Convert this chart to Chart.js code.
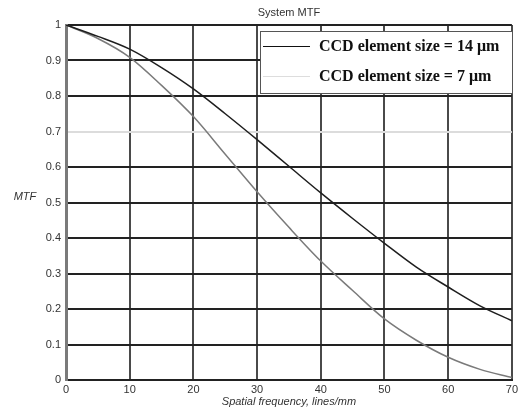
<!DOCTYPE html>
<html><head><meta charset="utf-8">
<script src="https://cdn.jsdelivr.net/npm/chart.js@4.4.1/dist/chart.umd.min.js"></script>
<style>html,body{margin:0;padding:0;background:#fff}#wrap{width:521px;height:408px}</style>
</head><body><div id="wrap"><canvas id="c" width="521" height="408"></canvas></div>
<script>
const freq = [0,5,10,15,20,25,30,35,40,45,50,55,60,65,70];
const mtf14 = [1.0,0.968,0.932,0.88,0.82,0.75,0.677,0.602,0.527,0.455,0.385,0.318,0.262,0.209,0.167];
const mtf7  = [1.0,0.962,0.909,0.83,0.742,0.636,0.53,0.43,0.335,0.252,0.172,0.112,0.064,0.03,0.007];
const seriesLabels = ["CCD element size = 14 \u03bcm","CCD element size = 7 \u03bcm"];
const yTicks = [0,0.1,0.2,0.3,0.4,0.5,0.6,0.7,0.8,0.9,1];
const xTicks = [0,10,20,30,40,50,60,70];

const pts = a => freq.map((f,i)=>({x:f,y:a[i]}));

const overlay = {
  id:'overlay',
  afterDraw(chart){
    const ctx = chart.ctx, ca = chart.chartArea;
    ctx.save();
    ctx.fillStyle='#333';
    ctx.font='11px "Liberation Sans", Arial, sans-serif';
    ctx.textAlign='center'; ctx.textBaseline='middle';
    ctx.fillText('System MTF',(ca.left+ca.right)/2,13);
    ctx.font='italic 11px "Liberation Sans", Arial, sans-serif';
    ctx.fillText('MTF',25,197);
    ctx.fillText('Spatial frequency, lines/mm',(ca.left+ca.right)/2,402);
    const lx=260, ly=31, lw=252, lh=62;
    ctx.fillStyle='#fff'; ctx.fillRect(lx,ly,lw,lh);
    ctx.strokeStyle='#555'; ctx.lineWidth=1;
    ctx.strokeRect(lx+0.5,ly+0.5,lw,lh);
    const ds = chart.data.datasets;
    const rows=[46.5,76.5];
    ds.forEach((d,i)=>{
      ctx.strokeStyle = i===0 ? '#111' : '#ddd';
      ctx.lineWidth = 1;
      ctx.beginPath(); ctx.moveTo(263,rows[i]); ctx.lineTo(310,rows[i]); ctx.stroke();
      ctx.fillStyle='#111';
      ctx.font='bold 16px "Liberation Serif", "Times New Roman", serif';
      ctx.textAlign='left'; ctx.textBaseline='middle';
      ctx.fillText(d.label,319,rows[i]);
    });
    ctx.restore();
  }
};

new Chart(document.getElementById('c'),{
  type:'line',
  data:{datasets:[
    {label:seriesLabels[0],data:pts(mtf14),borderColor:'#1e1e1e',borderWidth:1.5,pointRadius:0,cubicInterpolationMode:'monotone',fill:false},
    {label:seriesLabels[1],data:pts(mtf7),borderColor:'#7a7a7a',borderWidth:1.5,pointRadius:0,cubicInterpolationMode:'monotone',fill:false}
  ]},
  options:{
    responsive:false,animation:false,
    layout:{padding:{top:25,right:8,left:0,bottom:0}},
    plugins:{legend:{display:false},title:{display:false},tooltip:{enabled:false}},
    scales:{
      x:{type:'linear',min:0,max:70,
        afterBuildTicks(s){s.ticks=xTicks.map(v=>({value:v}));},
        afterFit(s){s.height=28;},
        grid:{color:'#4a4a4a',lineWidth:2,drawTicks:false},
        border:{color:'#222',width:2},
        ticks:{color:'#333',padding:3,font:{family:'"Liberation Sans", Arial, sans-serif',size:11}}},
      y:{type:'linear',min:0,max:1,
        afterBuildTicks(s){s.ticks=yTicks.map(v=>({value:v}));},
        afterFit(s){s.width=66;},
        grid:{color:c=>Math.abs(c.tick.value-0.7)<1e-6?'#dcdcdc':'#222',lineWidth:2,drawTicks:false},
        border:{color:'#7a7a7a',width:3},
        ticks:{color:'#333',padding:5,font:{family:'"Liberation Sans", Arial, sans-serif',size:11},
          callback:v=>String(Math.round(v*10)/10)}}
    }
  },
  plugins:[overlay]
});
</script></body></html>
